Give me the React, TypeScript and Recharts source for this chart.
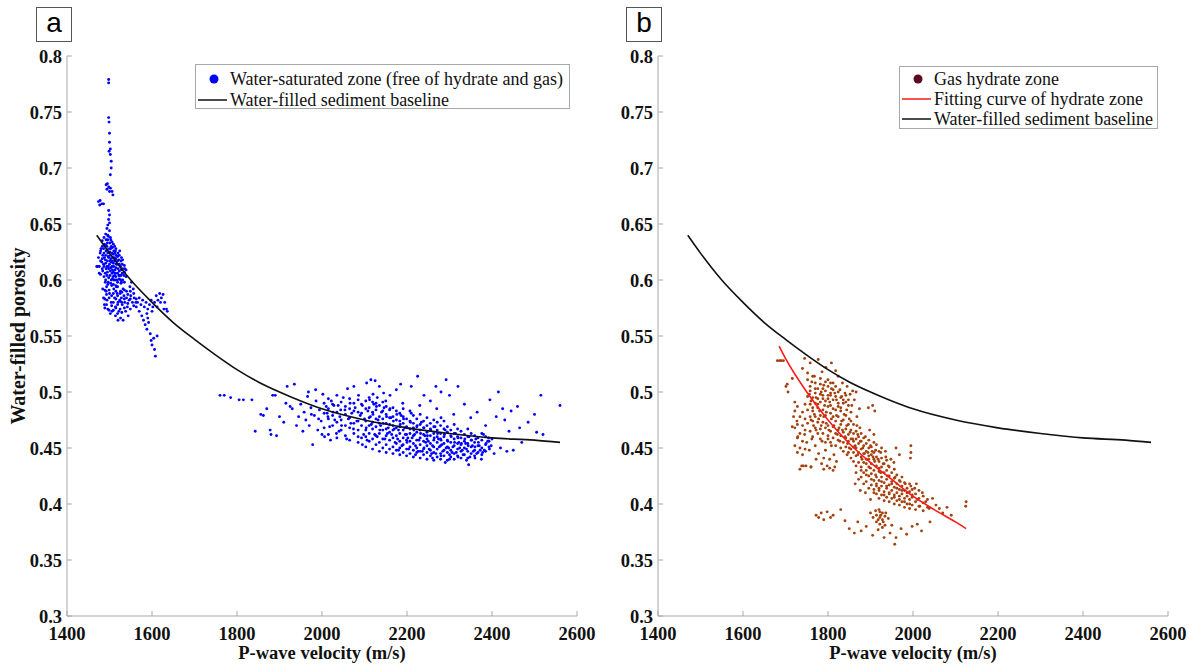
import React from 'react';
import { ScatterChart, Scatter, XAxis, YAxis } from 'recharts';

// axes
const xTicks = [1400, 1600, 1800, 2000, 2200, 2400, 2600];
const yTicks = [0.3, 0.35, 0.4, 0.45, 0.5, 0.55, 0.6, 0.65, 0.7, 0.75, 0.8];

// water-filled sediment baseline (both panels)
const baselineCurve: [number, number][] = [
  [1470, 0.640], [1500, 0.624], [1550, 0.600], [1600, 0.580], [1650, 0.562], [1700, 0.547],
  [1750, 0.533], [1800, 0.520], [1850, 0.509], [1900, 0.500], [1950, 0.492], [2000, 0.485],
  [2100, 0.475], [2200, 0.468], [2300, 0.463], [2400, 0.459], [2500, 0.457], [2560, 0.455],
];

// fitting curve of hydrate zone (panel b)
const fitCurve: [number, number][] = [
  [1685, 0.541], [1700, 0.530], [1750, 0.500], [1800, 0.475], [1850, 0.454], [1900, 0.437],
  [1950, 0.422], [2000, 0.407], [2050, 0.395], [2100, 0.384], [2125, 0.378],
];

// panel a: water-saturated zone, low velocity group
const waterSpike: [number, number][] = [
  [1498, 0.779], [1498, 0.776], [1498, 0.745], [1499, 0.741], [1500, 0.731], [1500, 0.723],
  [1502, 0.717], [1499, 0.715], [1502, 0.712], [1504, 0.706], [1504, 0.700], [1502, 0.694],
  [1492, 0.685], [1495, 0.686], [1498, 0.683], [1502, 0.682], [1494, 0.681], [1506, 0.679],
  [1508, 0.676], [1500, 0.679], [1474, 0.670], [1478, 0.671], [1482, 0.668], [1486, 0.668],
  [1477, 0.667], [1498, 0.662], [1500, 0.658], [1498, 0.654], [1496, 0.649], [1494, 0.646],
  [1500, 0.651],
];
const waterCore: [number, number][] = [
  [1480, 0.628], [1484, 0.622], [1488, 0.632], [1490, 0.618], [1492, 0.626], [1494, 0.612],
  [1496, 0.636], [1498, 0.620], [1500, 0.628], [1502, 0.608], [1504, 0.616], [1506, 0.624],
  [1508, 0.603], [1510, 0.612], [1512, 0.620], [1514, 0.606], [1516, 0.614], [1518, 0.600],
  [1520, 0.610], [1522, 0.618], [1524, 0.604], [1526, 0.612], [1528, 0.598], [1530, 0.606],
  [1486, 0.614], [1490, 0.606], [1494, 0.630], [1498, 0.610], [1502, 0.622], [1506, 0.612],
  [1510, 0.600], [1514, 0.626], [1518, 0.614], [1522, 0.604], [1526, 0.600], [1530, 0.614],
  [1534, 0.604], [1536, 0.610], [1472, 0.612], [1474, 0.620], [1476, 0.612], [1478, 0.624],
  [1482, 0.616], [1484, 0.608], [1488, 0.620], [1492, 0.610], [1496, 0.624], [1500, 0.614],
  [1504, 0.630], [1508, 0.620], [1512, 0.630], [1516, 0.622], [1520, 0.624], [1524, 0.626],
  [1528, 0.620], [1496, 0.640], [1500, 0.644], [1502, 0.638], [1506, 0.634], [1492, 0.636],
  [1510, 0.626], [1486, 0.628], [1498, 0.602], [1504, 0.600], [1512, 0.604], [1506, 0.606],
  [1494, 0.604], [1490, 0.598], [1470, 0.612], [1476, 0.606],
];
// extra density in the low velocity core, by velocity column
const waterCoreCols: [number, number[]][] = [
  [1479, [0.605, 0.617, 0.626]], [1483, [0.610, 0.619, 0.630, 0.635]],
  [1487, [0.603, 0.612, 0.624, 0.638]], [1491, [0.600, 0.615, 0.622, 0.631, 0.641]],
  [1495, [0.607, 0.617, 0.627, 0.633]], [1497, [0.598, 0.612, 0.621, 0.639]],
  [1501, [0.604, 0.617, 0.625, 0.633]], [1503, [0.597, 0.611, 0.619, 0.628, 0.636]],
  [1507, [0.601, 0.609, 0.617, 0.629]], [1509, [0.596, 0.607, 0.615, 0.623, 0.632]],
  [1513, [0.600, 0.609, 0.617, 0.624]], [1515, [0.595, 0.603, 0.611, 0.619, 0.628]],
  [1519, [0.598, 0.606, 0.617, 0.621]], [1523, [0.601, 0.608, 0.614, 0.622]],
  [1527, [0.597, 0.604, 0.609, 0.617]], [1531, [0.600, 0.610, 0.618]],
  [1535, [0.598, 0.607, 0.613]], [1539, [0.603, 0.609]],
  [1489, [0.575, 0.583, 0.591]], [1493, [0.578, 0.587, 0.594]],
  [1499, [0.573, 0.584, 0.591]], [1505, [0.577, 0.586, 0.595]],
  [1509, [0.573, 0.580, 0.588]], [1515, [0.575, 0.583, 0.590]],
  [1519, [0.570, 0.578, 0.586, 0.594]], [1525, [0.574, 0.581, 0.588]],
  [1529, [0.571, 0.580, 0.589]], [1535, [0.575, 0.583, 0.591]],
  [1543, [0.579, 0.587]], [1549, [0.574, 0.583, 0.590]],
  [1557, [0.577, 0.588]], [1563, [0.583, 0.576]],
];
const waterMid: [number, number][] = [
  [1484, 0.592], [1486, 0.584], [1488, 0.578], [1492, 0.590], [1494, 0.582], [1496, 0.574],
  [1500, 0.588], [1504, 0.580], [1506, 0.572], [1510, 0.592], [1512, 0.584], [1514, 0.576],
  [1518, 0.588], [1520, 0.580], [1522, 0.572], [1526, 0.590], [1528, 0.584], [1530, 0.578],
  [1534, 0.586], [1536, 0.580], [1540, 0.584], [1542, 0.576], [1546, 0.582], [1548, 0.594],
  [1550, 0.586], [1552, 0.598], [1554, 0.580], [1556, 0.592], [1558, 0.584], [1562, 0.580],
  [1516, 0.594], [1524, 0.582], [1532, 0.592], [1538, 0.572], [1544, 0.568], [1514, 0.568],
  [1520, 0.564], [1526, 0.566], [1532, 0.564], [1502, 0.570], [1496, 0.596], [1540, 0.590],
];
const waterTail: [number, number][] = [
  [1566, 0.580], [1570, 0.584], [1574, 0.578], [1578, 0.582], [1582, 0.576], [1586, 0.580],
  [1590, 0.574], [1594, 0.578], [1598, 0.582], [1602, 0.576], [1606, 0.580], [1610, 0.586],
  [1614, 0.582], [1618, 0.588], [1622, 0.584], [1626, 0.587], [1630, 0.580], [1634, 0.574],
  [1636, 0.572], [1628, 0.574], [1620, 0.580], [1612, 0.576], [1600, 0.572], [1588, 0.570],
  [1580, 0.564], [1584, 0.560], [1588, 0.556], [1592, 0.562], [1596, 0.552], [1598, 0.546],
  [1600, 0.542], [1604, 0.548], [1606, 0.538], [1608, 0.532], [1612, 0.550], [1590, 0.566],
  [1576, 0.568], [1570, 0.572],
];

// panel a: water-saturated zone, high velocity group
const waterFarLeft: [number, number][] = [
  [1760, 0.497], [1770, 0.497], [1785, 0.495], [1805, 0.493], [1815, 0.493], [1835, 0.493],
  [1843, 0.465], [1856, 0.480], [1862, 0.479], [1878, 0.466], [1880, 0.462], [1884, 0.497],
  [1890, 0.497], [1893, 0.461], [1870, 0.485], [1900, 0.478], [1910, 0.473], [1915, 0.490],
  [1918, 0.505], [1925, 0.487], [1930, 0.485], [1935, 0.507], [1940, 0.470], [1945, 0.478],
];
const waterLeft: [number, number][] = [
  [1950, 0.489], [1955, 0.465], [1958, 0.482], [1962, 0.475], [1966, 0.496], [1970, 0.470],
  [1974, 0.486], [1978, 0.453], [1982, 0.479], [1986, 0.492], [1990, 0.466], [1994, 0.484],
  [1998, 0.474], [2002, 0.498], [2006, 0.460], [2010, 0.487], [2014, 0.478], [2018, 0.469],
  [2022, 0.492], [2026, 0.482], [2030, 0.475], [2034, 0.463], [2038, 0.488], [2042, 0.478],
  [2046, 0.470], [2050, 0.495], [2054, 0.484], [2058, 0.458], [2062, 0.476], [2066, 0.490],
  [2070, 0.481], [2074, 0.467], [2078, 0.486], [2082, 0.474], [2086, 0.497], [2090, 0.479],
  [1968, 0.500], [1985, 0.502], [2000, 0.462], [2020, 0.457], [2040, 0.465], [2060, 0.503],
  [2075, 0.505], [2085, 0.460], [2095, 0.453], [1975, 0.480], [1992, 0.476], [2012, 0.481],
  [2028, 0.488], [2044, 0.484], [2068, 0.472],
];
const waterDense: [number, number][] = [
  [2095, 0.488], [2100, 0.476], [2104, 0.468], [2108, 0.483], [2112, 0.493], [2116, 0.471],
  [2120, 0.480], [2124, 0.462], [2128, 0.487], [2132, 0.475], [2136, 0.466], [2140, 0.482],
  [2144, 0.472], [2148, 0.458], [2152, 0.478], [2156, 0.468], [2160, 0.485], [2164, 0.462],
  [2168, 0.474], [2172, 0.455], [2176, 0.480], [2180, 0.466], [2184, 0.471], [2188, 0.452],
  [2192, 0.476], [2196, 0.462], [2200, 0.468], [2204, 0.449], [2208, 0.473], [2212, 0.459],
  [2216, 0.466], [2220, 0.452], [2224, 0.470], [2228, 0.457], [2232, 0.463], [2236, 0.447],
  [2240, 0.468], [2244, 0.455], [2248, 0.461], [2252, 0.449], [2256, 0.466], [2260, 0.452],
  [2264, 0.459], [2268, 0.445], [2272, 0.463], [2276, 0.451], [2280, 0.457], [2284, 0.447],
  [2288, 0.462], [2292, 0.450], [2296, 0.456], [2300, 0.444], [2304, 0.460], [2308, 0.451],
  [2312, 0.455], [2316, 0.446], [2320, 0.459], [2324, 0.450], [2328, 0.454], [2332, 0.444],
  [2336, 0.458], [2340, 0.449], [2344, 0.452], [2348, 0.442], [2352, 0.457], [2356, 0.447],
  [2360, 0.451], [2364, 0.445], [2368, 0.455], [2372, 0.448],
  [2098, 0.462], [2106, 0.457], [2114, 0.478], [2122, 0.489], [2130, 0.460], [2138, 0.470],
  [2146, 0.486], [2154, 0.463], [2162, 0.477], [2170, 0.467], [2178, 0.458], [2186, 0.479],
  [2194, 0.468], [2202, 0.459], [2210, 0.481], [2218, 0.462], [2226, 0.447], [2234, 0.473],
  [2242, 0.461], [2250, 0.456], [2258, 0.445], [2266, 0.469], [2274, 0.458], [2282, 0.453],
  [2290, 0.466], [2298, 0.450], [2306, 0.446], [2314, 0.463], [2322, 0.455], [2330, 0.448],
  [2338, 0.454], [2346, 0.460], [2354, 0.452], [2362, 0.458], [2370, 0.452], [2378, 0.446],
  [2386, 0.454], [2392, 0.459], [2394, 0.449],
  [2180, 0.448], [2200, 0.455], [2220, 0.444], [2240, 0.450], [2260, 0.441], [2280, 0.443],
  [2300, 0.440], [2320, 0.442], [2345, 0.435], [2290, 0.437], [2340, 0.439], [2360, 0.441],
];
// extra density in the high velocity core, by velocity column
const waterDenseCols: [number, number[]][] = [
  [2005, [0.468, 0.481, 0.490]], [2015, [0.462, 0.476, 0.485, 0.494]],
  [2025, [0.470, 0.479, 0.489]], [2035, [0.459, 0.473, 0.482, 0.497]],
  [2045, [0.466, 0.475, 0.491]], [2055, [0.461, 0.470, 0.480, 0.487]],
  [2065, [0.457, 0.468, 0.477, 0.485, 0.494]], [2075, [0.463, 0.472, 0.483, 0.490]],
  [2085, [0.455, 0.466, 0.474, 0.482, 0.493]], [2093, [0.459, 0.470, 0.481, 0.489]],
  [2103, [0.451, 0.460, 0.466, 0.474, 0.485, 0.492]], [2111, [0.456, 0.463, 0.470, 0.477, 0.486, 0.495]],
  [2119, [0.449, 0.458, 0.467, 0.473, 0.482, 0.491]], [2127, [0.453, 0.461, 0.469, 0.476, 0.484, 0.490]],
  [2135, [0.447, 0.455, 0.463, 0.472, 0.478, 0.488]], [2143, [0.450, 0.458, 0.466, 0.476, 0.483, 0.491]],
  [2151, [0.446, 0.453, 0.461, 0.467, 0.472, 0.480, 0.487]], [2159, [0.449, 0.457, 0.464, 0.471, 0.477, 0.484]],
  [2167, [0.445, 0.451, 0.459, 0.466, 0.470, 0.478, 0.486]], [2175, [0.448, 0.454, 0.461, 0.468, 0.475, 0.483]],
  [2183, [0.444, 0.450, 0.456, 0.463, 0.469, 0.474, 0.481]], [2191, [0.446, 0.453, 0.459, 0.466, 0.472, 0.478, 0.485]],
  [2199, [0.443, 0.449, 0.457, 0.462, 0.469, 0.476]], [2207, [0.445, 0.451, 0.456, 0.463, 0.467, 0.474, 0.483]],
  [2215, [0.442, 0.448, 0.454, 0.461, 0.468, 0.472, 0.479]], [2223, [0.446, 0.450, 0.457, 0.464, 0.469, 0.476]],
  [2231, [0.441, 0.447, 0.453, 0.459, 0.466, 0.471, 0.480]], [2239, [0.444, 0.449, 0.456, 0.462, 0.468, 0.474]],
  [2247, [0.440, 0.446, 0.452, 0.458, 0.464, 0.470, 0.477]], [2255, [0.443, 0.448, 0.454, 0.461, 0.467, 0.472]],
  [2263, [0.439, 0.446, 0.451, 0.457, 0.463, 0.469, 0.475]], [2271, [0.442, 0.449, 0.455, 0.460, 0.466, 0.473]],
  [2279, [0.440, 0.445, 0.452, 0.458, 0.463, 0.470]], [2287, [0.443, 0.448, 0.454, 0.460, 0.467, 0.474]],
  [2295, [0.439, 0.446, 0.451, 0.457, 0.464, 0.469]], [2303, [0.442, 0.448, 0.455, 0.461, 0.466]],
  [2311, [0.440, 0.445, 0.452, 0.458, 0.463, 0.471]], [2319, [0.443, 0.449, 0.454, 0.460, 0.467]],
  [2327, [0.441, 0.447, 0.453, 0.459, 0.465]], [2335, [0.444, 0.450, 0.456, 0.462]],
  [2343, [0.441, 0.447, 0.454, 0.460, 0.467]], [2351, [0.445, 0.451, 0.457, 0.463]],
  [2359, [0.443, 0.448, 0.455, 0.461]], [2367, [0.446, 0.452, 0.459]],
  [2376, [0.444, 0.450, 0.457, 0.463]], [2385, [0.447, 0.453, 0.460]],
  [2393, [0.451, 0.456]],
];
const waterUpper: [number, number][] = [
  [2105, 0.508], [2115, 0.511], [2125, 0.510], [2135, 0.505], [2145, 0.499], [2160, 0.497],
  [2175, 0.502], [2185, 0.507], [2210, 0.505], [2225, 0.514], [2240, 0.497], [2255, 0.492],
  [2268, 0.505], [2280, 0.500], [2292, 0.511], [2300, 0.497], [2320, 0.505], [2335, 0.489],
  [2350, 0.477], [2365, 0.482], [2130, 0.495], [2150, 0.492], [2190, 0.490], [2230, 0.488],
  [2270, 0.485], [2310, 0.480], [2120, 0.498], [2280, 0.477],
];
const waterRight: [number, number][] = [
  [2380, 0.462], [2385, 0.470], [2390, 0.456], [2395, 0.493], [2400, 0.458], [2405, 0.445],
  [2410, 0.478], [2415, 0.500], [2420, 0.450], [2425, 0.485], [2430, 0.475], [2435, 0.447],
  [2440, 0.465], [2445, 0.483], [2450, 0.448], [2460, 0.487], [2465, 0.468], [2470, 0.455],
  [2485, 0.473], [2500, 0.480], [2505, 0.464], [2515, 0.497], [2520, 0.462], [2560, 0.488],
  [2375, 0.440], [2382, 0.448], [2398, 0.452],
];

// panel b: gas hydrate zone
const hydrateTop: [number, number][] = [
  [1681, 0.528], [1686, 0.528], [1690, 0.528], [1695, 0.528], [1701, 0.505], [1706, 0.500],
  [1704, 0.507], [1716, 0.512], [1722, 0.491], [1719, 0.478], [1727, 0.474], [1716, 0.469],
  [1729, 0.460], [1745, 0.530], [1758, 0.526], [1777, 0.529], [1795, 0.522], [1808, 0.526],
  [1818, 0.519], [1740, 0.521], [1752, 0.517], [1768, 0.514], [1786, 0.518], [1800, 0.511],
  [1824, 0.514], [1834, 0.508], [1845, 0.505], [1858, 0.501], [1866, 0.500], [1790, 0.506],
  [1812, 0.508], [1762, 0.509],
];
const hydrateUpper: [number, number][] = [
  [1756, 0.498], [1760, 0.492], [1764, 0.486], [1768, 0.480], [1772, 0.495], [1776, 0.489],
  [1780, 0.483], [1784, 0.500], [1788, 0.494], [1792, 0.488], [1796, 0.482], [1800, 0.497],
  [1804, 0.491], [1808, 0.503], [1812, 0.485], [1816, 0.499], [1820, 0.493], [1824, 0.487],
  [1828, 0.502], [1832, 0.496], [1836, 0.490], [1840, 0.499], [1844, 0.484], [1848, 0.493],
  [1852, 0.498], [1856, 0.488], [1760, 0.475], [1766, 0.470], [1772, 0.466], [1778, 0.476],
  [1784, 0.470], [1790, 0.478], [1796, 0.472], [1802, 0.466], [1808, 0.476], [1814, 0.470],
  [1820, 0.479], [1826, 0.468], [1832, 0.474], [1838, 0.480], [1844, 0.470], [1850, 0.476],
  [1758, 0.505], [1770, 0.503], [1782, 0.507], [1794, 0.509], [1806, 0.497], [1818, 0.505],
  [1830, 0.483], [1842, 0.491], [1854, 0.482], [1862, 0.493], [1868, 0.478], [1874, 0.485],
];
const hydrateMid: [number, number][] = [
  [1822, 0.462], [1828, 0.456], [1834, 0.466], [1840, 0.460], [1846, 0.454], [1852, 0.464],
  [1858, 0.458], [1864, 0.452], [1870, 0.462], [1876, 0.456], [1882, 0.450], [1888, 0.460],
  [1894, 0.446], [1900, 0.452], [1906, 0.442], [1912, 0.448], [1918, 0.440], [1924, 0.446],
  [1930, 0.436], [1936, 0.442], [1942, 0.434], [1870, 0.444], [1880, 0.440], [1890, 0.436],
  [1900, 0.432], [1910, 0.438], [1920, 0.432], [1860, 0.446], [1850, 0.450], [1845, 0.444],
  [1886, 0.445], [1896, 0.440], [1904, 0.447], [1914, 0.453], [1926, 0.450], [1935, 0.447],
  [1948, 0.440], [1955, 0.437], [1960, 0.450], [1968, 0.444], [1875, 0.468], [1868, 0.470],
  [1898, 0.466], [1908, 0.462], [1895, 0.486], [1905, 0.488], [1910, 0.483], [1995, 0.452],
  [1995, 0.446], [1994, 0.441],
  [1745, 0.462], [1750, 0.455], [1756, 0.448], [1762, 0.458], [1770, 0.452], [1778, 0.445],
  [1786, 0.456], [1794, 0.448], [1800, 0.458], [1808, 0.452], [1814, 0.444], [1742, 0.434],
  [1748, 0.434], [1760, 0.433], [1785, 0.436], [1798, 0.434], [1812, 0.430], [1820, 0.438],
  [1772, 0.440],
];
const hydrateLow: [number, number][] = [
  [1866, 0.428], [1872, 0.422], [1878, 0.430], [1884, 0.418], [1890, 0.426], [1896, 0.414],
  [1902, 0.422], [1908, 0.410], [1914, 0.418], [1920, 0.412], [1926, 0.420], [1932, 0.408],
  [1938, 0.416], [1944, 0.410], [1950, 0.418], [1956, 0.406], [1962, 0.414], [1968, 0.404],
  [1974, 0.412], [1980, 0.402], [1986, 0.410], [1992, 0.400], [1998, 0.408], [2004, 0.414],
  [2010, 0.404], [2016, 0.398], [2022, 0.410], [2030, 0.402], [2038, 0.396], [2046, 0.405],
  [2054, 0.399], [1888, 0.410], [1900, 0.404], [1912, 0.426], [1924, 0.428], [1940, 0.425],
  [1958, 0.424], [1970, 0.420], [1982, 0.418], [1995, 0.416], [2008, 0.418], [1876, 0.412],
  [1864, 0.418], [2062, 0.396], [2070, 0.392], [2080, 0.397], [2125, 0.402], [2124, 0.398],
  [2090, 0.390],
];
const hydrateBottom: [number, number][] = [
  [1772, 0.390], [1778, 0.388], [1784, 0.392], [1790, 0.386], [1798, 0.393], [1806, 0.388],
  [1812, 0.390], [1900, 0.392], [1906, 0.388], [1912, 0.394], [1918, 0.386], [1924, 0.390],
  [1930, 0.384], [1936, 0.392], [1942, 0.387], [1920, 0.395], [1850, 0.378], [1862, 0.374],
  [1878, 0.376], [1890, 0.380], [1905, 0.372], [1918, 0.377], [1932, 0.370], [1946, 0.374],
  [1957, 0.364], [1960, 0.370], [1972, 0.378], [1985, 0.373], [1998, 0.380], [2010, 0.382],
  [2020, 0.376], [2040, 0.384], [1840, 0.385], [1870, 0.384], [1950, 0.381], [1830, 0.395],
  [1760, 0.433], [1738, 0.434],
];
// extra density along the hydrate band, by velocity column
const hydrateCols: [number, number[]][] = [
  [1722, [0.452, 0.468, 0.483]], [1728, [0.446, 0.459, 0.471, 0.487]],
  [1734, [0.431, 0.450, 0.463, 0.478]], [1740, [0.444, 0.456, 0.470, 0.482]],
  [1746, [0.449, 0.466, 0.476, 0.489]],
  [1752, [0.472, 0.484, 0.496, 0.511]], [1758, [0.465, 0.478, 0.489, 0.501]],
  [1764, [0.460, 0.474, 0.483, 0.495, 0.514]], [1770, [0.468, 0.478, 0.490, 0.499, 0.508]],
  [1776, [0.463, 0.473, 0.486, 0.494, 0.503]], [1782, [0.458, 0.467, 0.479, 0.491, 0.498, 0.512]],
  [1788, [0.463, 0.473, 0.484, 0.497, 0.503]], [1794, [0.455, 0.468, 0.479, 0.492, 0.501]],
  [1800, [0.461, 0.470, 0.487, 0.494, 0.505]], [1806, [0.455, 0.465, 0.481, 0.488, 0.499, 0.508]],
  [1812, [0.459, 0.469, 0.478, 0.493, 0.502]], [1818, [0.452, 0.463, 0.474, 0.484, 0.496]],
  [1824, [0.457, 0.466, 0.478, 0.490, 0.500]], [1830, [0.450, 0.461, 0.471, 0.486, 0.495]],
  [1836, [0.447, 0.455, 0.464, 0.475, 0.493]], [1842, [0.451, 0.459, 0.467, 0.479, 0.497]],
  [1848, [0.446, 0.456, 0.462, 0.471, 0.488]], [1854, [0.441, 0.449, 0.458, 0.466, 0.474]],
  [1860, [0.438, 0.451, 0.456, 0.463, 0.471]], [1866, [0.434, 0.443, 0.450, 0.458, 0.465]],
  [1872, [0.437, 0.446, 0.454, 0.460]], [1878, [0.424, 0.433, 0.442, 0.449, 0.456, 0.463]],
  [1884, [0.428, 0.437, 0.445, 0.452, 0.459]], [1890, [0.420, 0.430, 0.440, 0.447, 0.454]],
  [1896, [0.425, 0.433, 0.443, 0.450, 0.457]], [1902, [0.417, 0.427, 0.436, 0.444, 0.451]],
  [1908, [0.413, 0.421, 0.430, 0.440, 0.446, 0.455]], [1914, [0.409, 0.416, 0.424, 0.434, 0.442]],
  [1920, [0.405, 0.414, 0.421, 0.429, 0.438, 0.447]], [1926, [0.408, 0.416, 0.424, 0.433, 0.441]],
  [1932, [0.403, 0.411, 0.419, 0.428, 0.436]], [1938, [0.406, 0.414, 0.422, 0.430, 0.439]],
  [1944, [0.402, 0.409, 0.417, 0.425, 0.433]], [1950, [0.405, 0.412, 0.420, 0.428]],
  [1956, [0.400, 0.408, 0.415, 0.423, 0.431]], [1962, [0.403, 0.410, 0.418, 0.426]],
  [1968, [0.399, 0.407, 0.413, 0.421]], [1974, [0.402, 0.409, 0.416, 0.424]],
  [1980, [0.397, 0.405, 0.412, 0.419]], [1986, [0.400, 0.407, 0.414]],
  [1992, [0.396, 0.404, 0.411, 0.418]], [1998, [0.399, 0.406, 0.413]],
  [2006, [0.395, 0.402, 0.409]], [2014, [0.398, 0.405, 0.412]],
  [2024, [0.394, 0.401, 0.407]], [2034, [0.397, 0.404]],
  [1790, [0.431, 0.441]], [1804, [0.432, 0.440]], [1816, [0.433]],
  [1914, [0.384, 0.390]], [1922, [0.382, 0.388, 0.393]],
  [1928, [0.379, 0.386, 0.392]], [1934, [0.381, 0.389]],
];

const SERIF = "'Liberation Serif', 'Times New Roman', serif";
const FRAME = '#a8a8a8';
const BLUE = '#0000ff';
const BROWN = '#a4420e';

const toXY = (pts: [number, number][]) => pts.map(([x, y]) => ({ x, y }));
const colsToPairs = (cols: [number, number[]][]) =>
  cols.flatMap(([v, ps]) => ps.map((p) => [v, p] as [number, number]));

const waterPoints = toXY([
  ...waterSpike, ...waterCore, ...colsToPairs(waterCoreCols), ...waterMid, ...waterTail,
  ...waterFarLeft, ...waterLeft, ...waterDense, ...colsToPairs(waterDenseCols), ...waterUpper, ...waterRight,
]);
const hydratePoints = toXY([
  ...hydrateTop, ...hydrateUpper, ...hydrateMid, ...hydrateLow, ...hydrateBottom, ...colsToPairs(hydrateCols),
]);

const dot = (color: string) => (props: any) => (
  <circle cx={props.cx} cy={props.cy} r={1.45} fill={color} />
);
const noDot = () => <g />;

const tickStyle = { fill: '#111', fontSize: 18.5, fontWeight: 'bold', fontFamily: SERIF };
const fmtY = (v: number) => String(Number(v.toFixed(2)));

interface PanelProps {
  left: number;
  width: number;
  plotLeft: number;
  plotRight: number;
  yTitle?: string;
  children: React.ReactNode;
}

const Panel: React.FC<PanelProps> = ({ left, width, plotLeft, plotRight, yTitle, children }) => (
  <div style={{ position: 'absolute', left, top: 0 }}>
    <ScatterChart
      width={width}
      height={669}
      margin={{ top: 56, right: width - plotRight, bottom: 3, left: plotLeft - 60 }}
    >
      <XAxis
        xAxisId="b"
        dataKey="x"
        type="number"
        domain={[1400, 2600]}
        ticks={xTicks}
        allowDataOverflow
        stroke={FRAME}
        tickSize={-5}
        tickMargin={16}
        tick={tickStyle}
        height={50}
        label={{
          value: 'P-wave velocity (m/s)',
          position: 'insideBottom',
          offset: 7,
          style: { fill: '#111', fontSize: 18.5, fontWeight: 'bold', fontFamily: SERIF },
        }}
      />
      <XAxis
        xAxisId="t"
        orientation="top"
        type="number"
        domain={[1400, 2600]}
        ticks={xTicks}
        allowDataOverflow
        stroke={FRAME}
        tickSize={-5}
        tickFormatter={() => ''}
        height={0}
      />
      <YAxis
        yAxisId="l"
        dataKey="y"
        type="number"
        domain={[0.3, 0.8]}
        ticks={yTicks}
        allowDataOverflow
        stroke={FRAME}
        tickSize={-5}
        tickMargin={10}
        tick={tickStyle}
        tickFormatter={fmtY}
        width={60}
        label={
          yTitle
            ? {
                value: yTitle,
                angle: -90,
                position: 'insideLeft',
                offset: 11,
                style: { textAnchor: 'middle', fill: '#111', fontSize: 20, fontWeight: 'bold', fontFamily: SERIF },
              }
            : undefined
        }
      />
      <YAxis
        yAxisId="r"
        orientation="right"
        type="number"
        domain={[0.3, 0.8]}
        ticks={yTicks}
        allowDataOverflow
        stroke={FRAME}
        tickSize={-5}
        tickFormatter={() => ''}
        width={0}
      />
      {children}
    </ScatterChart>
  </div>
);

interface LegendItem {
  label: string;
  kind: 'dot' | 'line';
  color: string;
}

const LegendBox: React.FC<{ left: number; top: number; width: number; height: number; rowTop: number; rowGap: number; items: LegendItem[] }> = ({
  left, top, width, height, rowTop, rowGap, items,
}) => (
  <div
    style={{
      position: 'absolute', left, top, width, height, boxSizing: 'border-box',
      border: `1px solid ${FRAME}`, background: '#fff', fontFamily: SERIF, fontSize: 18, color: '#111',
    }}
  >
    {items.map((it, i) => {
      const cy = rowTop + i * rowGap;
      return (
        <div key={it.label} style={{ position: 'absolute', left: 0, top: cy - 10, height: 20, width: '100%' }}>
          <svg width={34} height={20} style={{ position: 'absolute', left: 0, top: 0 }}>
            {it.kind === 'dot' ? (
              <circle cx={18} cy={10} r={4.5} fill={it.color} />
            ) : (
              <line x1={2} y1={10} x2={31} y2={10} stroke={it.color} strokeWidth={1.5} />
            )}
          </svg>
          <span style={{ position: 'absolute', left: 34, top: 0, lineHeight: '20px', whiteSpace: 'nowrap' }}>{it.label}</span>
        </div>
      );
    })}
  </div>
);

const PanelTag: React.FC<{ left: number; text: string }> = ({ left, text }) => (
  <div
    style={{
      position: 'absolute', left, top: 7, width: 36, height: 35, boxSizing: 'border-box',
      border: '1px solid #555', display: 'flex', alignItems: 'center', justifyContent: 'center',
      fontFamily: "'Liberation Sans', Arial, sans-serif", fontSize: 28, lineHeight: 1, color: '#000', paddingBottom: 3,
    }}
  >
    {text}
  </div>
);

export default function App() {
  return (
    <div style={{ position: 'absolute', left: 0, top: 0, width: 1190, height: 669, background: '#fff', overflow: 'hidden' }}>
      <Panel left={0} width={610} plotLeft={67} plotRight={577} yTitle="Water-filled porosity">
        <Scatter xAxisId="b" yAxisId="l" data={waterPoints} fill={BLUE} shape={dot(BLUE)} isAnimationActive={false} />
        <Scatter
          xAxisId="b"
          yAxisId="l"
          data={toXY(baselineCurve)}
          line={{ stroke: '#111', strokeWidth: 1.6 }}
          lineJointType="monotoneX"
          shape={noDot}
          isAnimationActive={false}
        />
      </Panel>
      <Panel left={595} width={595} plotLeft={63} plotRight={573}>
        <Scatter xAxisId="b" yAxisId="l" data={hydratePoints} fill={BROWN} shape={dot(BROWN)} isAnimationActive={false} />
        <Scatter
          xAxisId="b"
          yAxisId="l"
          data={toXY(baselineCurve)}
          line={{ stroke: '#111', strokeWidth: 1.6 }}
          lineJointType="monotoneX"
          shape={noDot}
          isAnimationActive={false}
        />
        <Scatter
          xAxisId="b"
          yAxisId="l"
          data={toXY(fitCurve)}
          line={{ stroke: '#ff1a1a', strokeWidth: 1.6 }}
          lineJointType="monotoneX"
          shape={noDot}
          isAnimationActive={false}
        />
      </Panel>
      <PanelTag left={36} text="a" />
      <PanelTag left={626} text="b" />
      <LegendBox
        left={195}
        top={64}
        width={375}
        height={45}
        rowTop={14}
        rowGap={21}
        items={[
          { label: 'Water-saturated zone (free of hydrate and gas)', kind: 'dot', color: BLUE },
          { label: 'Water-filled sediment baseline', kind: 'line', color: '#111' },
        ]}
      />
      <LegendBox
        left={899}
        top={66}
        width={259}
        height={63}
        rowTop={12}
        rowGap={20}
        items={[
          { label: 'Gas hydrate zone', kind: 'dot', color: '#5a0c1e' },
          { label: 'Fitting curve of hydrate zone', kind: 'line', color: '#ff1a1a' },
          { label: 'Water-filled sediment baseline', kind: 'line', color: '#111' },
        ]}
      />
    </div>
  );
}
